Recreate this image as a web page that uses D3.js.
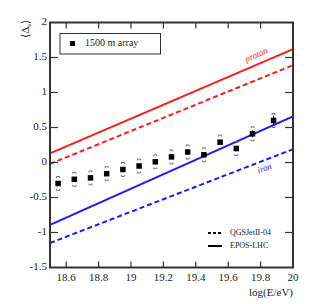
<!DOCTYPE html>
<html><head><meta charset="utf-8">
<script src="https://cdn.jsdelivr.net/npm/d3@7"></script>
<style>body{margin:0;background:#fff}svg{display:block}text{font-family:"Liberation Serif","DejaVu Serif",serif}</style>
</head><body>
<svg id="c" width="333" height="304"></svg>
<script>
const logE = [18.55,18.65,18.75,18.85,18.95,19.05,19.15,19.25,19.35,19.45,19.55,19.65,19.75,19.88];
const deltaS = [-0.30,-0.24,-0.22,-0.16,-0.10,-0.05,0.01,0.08,0.15,0.11,0.29,0.20,0.41,0.60];
const statErr = [0.03,0.03,0.03,0.03,0.03,0.03,0.03,0.03,0.03,0.03,0.03,0.04,0.05,0.07];
const sysErr = [0.10,0.10,0.10,0.10,0.10,0.10,0.10,0.10,0.10,0.10,0.10,0.10,0.10,0.10];
const lineNames = ["proton EPOS-LHC","proton QGSJetII-04","iron EPOS-LHC","iron QGSJetII-04"];
const lineStart = [0.13,-0.02,-0.89,-1.15];
const lineEnd = [1.62,1.39,0.66,0.19];
const xTicks = [18.6,18.8,19,19.2,19.4,19.6,19.8,20];
const yTicks = [-1.5,-1,-0.5,0,0.5,1,1.5,2];

const svg = d3.select("#c");
const L=50,R=293,T=22.5,B=267.5;
const x = d3.scaleLinear().domain([18.5,20]).range([L,R]);
const y = d3.scaleLinear().domain([-1.5,2]).range([B,T]);
const axisCol="#333";

// lines
const colors=["#ff1a1a","#ff1a1a","#1a1aff","#1a1aff"];
const dashed=[false,true,false,true];
lineNames.forEach((n,i)=>{
  svg.append("line").attr("x1",x(18.5)).attr("y1",y(lineStart[i])).attr("x2",x(20)).attr("y2",y(lineEnd[i]))
    .attr("stroke",colors[i]).attr("stroke-width",2).attr("stroke-dasharray",dashed[i]?"5,3":null);
});

// labels proton/iron
function angle(i){return Math.atan2(y(lineEnd[i])-y(lineStart[i]), x(20)-x(18.5))*180/Math.PI;}
svg.append("text").attr("transform",`translate(${x(19.78)},${y(1.5)}) rotate(${angle(0)})`)
  .attr("fill","#ff1a1a").attr("font-size",9).attr("font-style","italic").attr("text-anchor","middle").text("proton");
svg.append("text").attr("transform",`translate(${x(19.83)},${y(-0.12)}) rotate(${angle(3)})`)
  .attr("fill","#1a1aff").attr("font-size",9).attr("font-style","italic").attr("text-anchor","middle").text("iron");

// systematic brackets
const g = svg.append("g");
logE.forEach((e,i)=>{
  const cx=x(e), yu=y(deltaS[i]+sysErr[i]), yd=y(deltaS[i]-sysErr[i]);
  g.append("path").attr("d",`M${cx-1.5},${yu+1.5}V${yu}H${cx+1.5}V${yu+1.5}`).attr("fill","none").attr("stroke","#555").attr("stroke-width",0.8);
  g.append("path").attr("d",`M${cx-1.5},${yd-1.5}V${yd}H${cx+1.5}V${yd-1.5}`).attr("fill","none").attr("stroke","#555").attr("stroke-width",0.8);
  g.append("line").attr("x1",cx).attr("x2",cx).attr("y1",y(deltaS[i]+statErr[i])).attr("y2",y(deltaS[i]-statErr[i])).attr("stroke","#000").attr("stroke-width",1);
  g.append("rect").attr("x",cx-2.75).attr("y",y(deltaS[i])-2.75).attr("width",5.5).attr("height",5.5).attr("fill","#000");
});

// axes frame
svg.append("rect").attr("x",L).attr("y",T).attr("width",R-L).attr("height",B-T).attr("fill","none").attr("stroke",axisCol).attr("stroke-width",2);
const tl=6;
xTicks.forEach(v=>{
  if(v<20){
  svg.append("line").attr("x1",x(v)).attr("x2",x(v)).attr("y1",B).attr("y2",B-tl).attr("stroke",axisCol).attr("stroke-width",1.2);
  svg.append("line").attr("x1",x(v)).attr("x2",x(v)).attr("y1",T).attr("y2",T+tl).attr("stroke",axisCol).attr("stroke-width",1.2);}
  svg.append("text").attr("x",x(v)).attr("y",B+11).attr("font-size",11).attr("text-anchor","middle").attr("dominant-baseline","middle").attr("fill","#222").text(d3.format("")(v));
});
yTicks.forEach(v=>{
  if(v>-1.5&&v<2){
  svg.append("line").attr("x1",L).attr("x2",L+tl+2).attr("y1",y(v)).attr("y2",y(v)).attr("stroke",axisCol).attr("stroke-width",1.2);
  svg.append("line").attr("x1",R).attr("x2",R-tl-2).attr("y1",y(v)).attr("y2",y(v)).attr("stroke",axisCol).attr("stroke-width",1.2);}
  svg.append("text").attr("x",L-3).attr("y",y(v)).attr("font-size",11).attr("text-anchor","end").attr("dominant-baseline","middle").attr("fill","#222").text(v);
});

// axis titles
svg.append("text").attr("x",R).attr("y",293).attr("font-size",11).attr("text-anchor","end").attr("dominant-baseline","middle").attr("fill","#222").text("log(E/eV)");
const yl = svg.append("text").attr("transform","translate(29,38) rotate(-90)").attr("font-size",11).attr("fill","#222");
yl.append("tspan").text("⟨Δ");
yl.append("tspan").attr("font-size",7).attr("dy",2).text("s");
yl.append("tspan").attr("dy",-2).text("⟩");

// legend top
svg.append("rect").attr("x",60).attr("y",33.5).attr("width",100.5).attr("height",20.5).attr("fill","#fff").attr("stroke",axisCol).attr("stroke-width",1);
svg.append("rect").attr("x",70).attr("y",41).attr("width",5).attr("height",5).attr("fill","#000");
svg.append("text").attr("x",85).attr("y",44).attr("font-size",10).attr("dominant-baseline","middle").attr("fill","#222").text("1500 m array");

// legend bottom
svg.append("line").attr("x1",208).attr("x2",222).attr("y1",233).attr("y2",233).attr("stroke","#000").attr("stroke-width",2).attr("stroke-dasharray","3,2");
svg.append("text").attr("x",230).attr("y",233).attr("font-size",8).attr("dominant-baseline","middle").attr("fill","#222").text("QGSJetII-04");
svg.append("line").attr("x1",208).attr("x2",222).attr("y1",246).attr("y2",246).attr("stroke","#000").attr("stroke-width",2);
svg.append("text").attr("x",230).attr("y",246).attr("font-size",8).attr("dominant-baseline","middle").attr("fill","#222").text("EPOS-LHC");
</script>
</body></html>
